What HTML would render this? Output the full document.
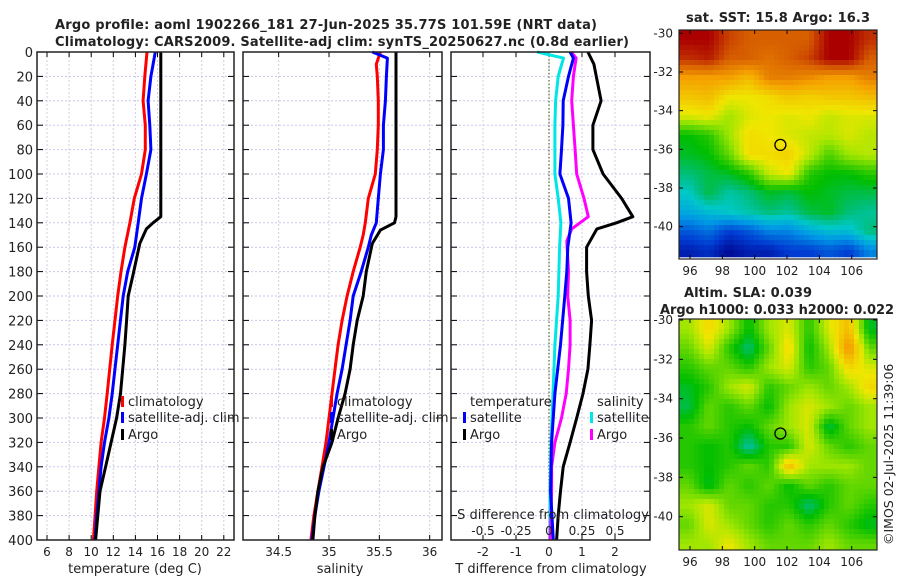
<!DOCTYPE html>
<html><head><meta charset="utf-8"><style>
html,body{margin:0;padding:0;background:#fff;width:900px;height:580px;overflow:hidden}
svg text{font-family:"DejaVu Sans","Liberation Sans",sans-serif;fill:#222}
</style></head><body>
<svg id="fig" xmlns="http://www.w3.org/2000/svg" width="900" height="580" viewBox="0 0 900 580">
<text x="55" y="29" font-size="13" font-weight="bold" textLength="542" fill="#000">Argo profile: aoml 1902266_181 27-Jun-2025 35.77S 101.59E (NRT data)</text>
<text x="55" y="46" font-size="13" font-weight="bold" textLength="574" fill="#000">Climatology: CARS2009. Satellite-adj clim: synTS_20250627.nc (0.8d earlier)</text>
<text x="686" y="22" font-size="13" font-weight="bold" textLength="184">sat. SST: 15.8 Argo: 16.3</text>
<text x="684" y="297" font-size="13" font-weight="bold" textLength="128">Altim. SLA: 0.039</text>
<text x="660" y="314" font-size="13" font-weight="bold" textLength="234">Argo h1000: 0.033 h2000: 0.022</text>
<text transform="translate(893,545) rotate(-90)" font-size="12.5">©IMOS 02-Jul-2025 11:39:06</text>
</svg>
<script>
// ---- data ----
const depthTicks=[0,20,40,60,80,100,120,140,160,180,200,220,240,260,280,300,320,340,360,380,400];
const tTicks=[6,8,10,12,14,16,18,20,22];
const sTicks=[34.5,35,35.5,36];
const dTTicks=[-2,-1,0,1,2];
const dSTicks=[-0.5,-0.25,0,0.25,0.5];
const dSTickLabels=["-0.5","-0.25","0","0.25","0.5"];
const lonTicks=[96,98,100,102,104,106];
const latTicks=[-30,-32,-34,-36,-38,-40];

const tClimDepth=[0,10,20,40,60,80,100,120,140,160,180,200,240,280,300,320,340,360,380,400];
const tClim=[15.05,14.95,14.85,14.7,14.9,14.9,14.55,13.9,13.5,13.05,12.7,12.4,11.9,11.45,11.2,10.9,10.7,10.5,10.35,10.2];
const tSat=[15.8,15.6,15.4,15.15,15.3,15.4,15.0,14.55,14.25,13.95,13.3,12.9,12.4,11.9,11.6,11.2,10.9,10.7,10.5,10.35];
const tArgoDepth=[0,20,40,60,80,100,120,135,140,145,157,182,200,220,240,260,280,300,320,340,360,380,400];
const tArgo=[16.3,16.3,16.3,16.3,16.3,16.3,16.3,16.3,15.6,15.0,14.4,13.8,13.35,13.2,13.05,12.85,12.65,12.3,11.8,11.3,10.8,10.6,10.4];

const sClimDepth=[0,10,20,40,60,80,100,120,140,150,160,180,200,220,240,260,280,300,320,340,360,380,400];
const sClim=[35.51,35.47,35.48,35.49,35.49,35.48,35.46,35.39,35.36,35.34,35.31,35.24,35.18,35.13,35.09,35.06,35.03,35.0,34.97,34.93,34.89,34.85,34.82];
const sSatDepth=[0,5,20,40,60,80,100,120,140,150,160,180,200,220,240,260,280,300,320,340,360,380,400];
const sSat=[35.43,35.58,35.57,35.56,35.54,35.54,35.51,35.49,35.47,35.42,35.39,35.32,35.24,35.21,35.17,35.13,35.08,35.04,35.0,34.95,34.9,34.86,34.83];
const sArgoDepth=[0,20,40,60,80,100,120,135,140,146,157,180,200,220,240,260,280,300,320,340,360,380,400];
const sArgo=[35.665,35.665,35.665,35.665,35.665,35.665,35.665,35.665,35.65,35.51,35.43,35.37,35.34,35.28,35.24,35.21,35.16,35.09,35.03,34.94,34.89,34.86,34.84];

const dTArgoDepth=[0,10,40,60,80,100,120,135,140,145,160,180,200,220,240,260,280,300,320,340,360,380,400];
const dTArgo=[1.18,1.36,1.58,1.33,1.33,1.64,2.2,2.54,2.05,1.45,1.14,1.14,1.19,1.29,1.24,1.18,1.03,0.84,0.64,0.43,0.35,0.28,0.23];
const dSatDepth=[0,5,20,40,60,80,100,120,140,160,180,200,240,280,320,360,400];
const dTSat=[0.64,0.74,0.59,0.43,0.42,0.38,0.33,0.59,0.67,0.57,0.54,0.48,0.35,0.18,0.08,0.05,0.13];
const dSSat=[-0.09,0.11,0.07,0.05,0.045,0.045,0.045,0.07,0.09,0.08,0.075,0.07,0.045,0.03,0.015,0.008,0.005];
const dSArgoDepth=[0,5,20,40,60,80,100,120,135,145,155,180,200,220,240,260,280,300,320,340,360,380,400];
const dSArgo=[0.168,0.205,0.185,0.172,0.185,0.198,0.21,0.265,0.298,0.172,0.135,0.148,0.142,0.16,0.16,0.148,0.13,0.095,0.045,0.02,0.02,0.015,0.008];

const sstGrid=[
[.95,.95,.88,.85,.85,.85,.85,.95,.95,.9],
[.9,.92,.85,.85,.82,.85,.88,.95,.95,.85],
[.75,.75,.75,.7,.8,.8,.78,.75,.75,.8],
[.68,.7,.62,.62,.64,.68,.66,.68,.68,.7],
[.6,.62,.55,.6,.62,.6,.62,.58,.6,.6],
[.42,.45,.55,.64,.62,.6,.58,.57,.6,.57],
[.4,.42,.5,.64,.64,.66,.58,.48,.55,.57],
[.35,.38,.4,.45,.58,.62,.45,.42,.42,.45],
[.3,.38,.32,.35,.4,.38,.42,.4,.38,.38],
[.25,.28,.3,.32,.35,.33,.38,.4,.35,.33],
[.15,.18,.12,.15,.2,.2,.25,.28,.28,.35],
[.08,.1,.05,.08,.08,.12,.12,.15,.12,.2]];
const slaGrid=[
[.55,.65,.55,.42,.55,.6,.45,.6,.7,.4],
[.5,.6,.45,.35,.5,.65,.42,.55,.78,.5],
[.45,.5,.5,.45,.55,.6,.45,.5,.65,.6],
[.4,.45,.55,.6,.45,.5,.55,.5,.55,.65],
[.38,.5,.45,.5,.42,.55,.6,.55,.5,.55],
[.45,.5,.45,.42,.5,.55,.6,.38,.5,.55],
[.45,.42,.45,.32,.45,.45,.6,.5,.45,.5],
[.45,.42,.45,.5,.45,.7,.55,.55,.55,.5],
[.5,.4,.5,.45,.5,.42,.5,.45,.5,.5],
[.55,.6,.5,.5,.45,.45,.35,.45,.5,.45],
[.5,.6,.55,.5,.45,.5,.45,.5,.45,.4],
[.55,.55,.62,.55,.5,.5,.5,.55,.5,.5]];
const argoLon=101.59, argoLat=-35.77;

// ---- helpers ----
const NS="http://www.w3.org/2000/svg";
const svg=document.getElementById('fig');
function mk(tag,attrs,parent){const e=document.createElementNS(NS,tag);for(const k in attrs)e.setAttribute(k,attrs[k]);(parent||svg).appendChild(e);return e;}
const yTop=52,yBot=540;
const yD=d=>yTop+d*(yBot-yTop)/400;
const P1={l:37,r:234}, P2={l:243,r:442}, P3={l:451,r:650};
const xT=t=>47+(t-6)*11.05;
const xS=s=>329+(s-35)*100.7;
const xDT=d=>549+d*33;
const xDS=s=>549+s*132;

function panel(P,name,xTickVals,xf,labels){
  const g=mk('g',{});
  
  
  depthTicks.forEach(d=>{mk('line',{x1:P.l,x2:P.r,y1:yD(d),y2:yD(d),stroke:'#c4c8ec','stroke-width':1,'stroke-dasharray':'2,2'},g);});
  xTickVals.forEach(v=>{const x=xf(v);mk('line',{x1:x,x2:x,y1:yTop,y2:yBot,stroke:'#d8c8e0','stroke-width':1,'stroke-dasharray':'2,2'},g);
    mk('line',{x1:x,x2:x,y1:yBot,y2:yBot-5,stroke:'#000'},g);mk('line',{x1:x,x2:x,y1:yTop,y2:yTop+5,stroke:'#000'},g);});
  depthTicks.forEach(d=>{mk('line',{x1:P.l,x2:P.l+6,y1:yD(d),y2:yD(d),stroke:'#000'},g);mk('line',{x1:P.r,x2:P.r-6,y1:yD(d),y2:yD(d),stroke:'#000'},g);});
  if(labels){xTickVals.forEach((v,i)=>{const t=mk('text',{x:xf(v),y:556,'font-size':12,'text-anchor':'middle'},g);t.textContent=labels[i];});}
  return g;
}
function frame(P,g){mk('rect',{x:P.l,y:yTop,width:P.r-P.l,height:yBot-yTop,fill:'none',stroke:'#222','stroke-width':1.5},g);}
function line(depths,vals,xf,color,name,g){
  const pts=vals.map((v,i)=>xf(v).toFixed(1)+','+yD(depths[i]).toFixed(1)).join(' ');
  const p=mk('polyline',{points:pts,fill:'none',stroke:color,'stroke-width':3,'stroke-linejoin':'round'},g);
  
  
}
function txt(x,y,s,name,size,anchor){const t=mk('text',{x:x,y:y,'font-size':size||12,'text-anchor':anchor||'start'});t.textContent=s;
  
  return t;}
function legItem(x,y,color,label,name){
  mk('rect',{x:x,y:y-10,width:3,height:11,fill:color});
  txt(x+7,y,label,name,13);
}

depthTicks.forEach(d=>{const t=mk('text',{x:33,y:yD(d)+5,'font-size':13,'text-anchor':'end'});t.textContent=d;
  
  });

// panel 1
const g1=panel(P1,'temperature-panel',tTicks,xT,tTicks.map(String));
line(tClimDepth,tClim,xT,'#ff0000','temp-climatology-line',g1);
line(tClimDepth,tSat,xT,'#0000ff','temp-satellite-line',g1);
line(tArgoDepth,tArgo,xT,'#000000','temp-argo-line',g1);
frame(P1,g1);
txt(135,573,'temperature (deg C)','temperature-axis-title',13,'middle');
legItem(121,406,'#ff0000','climatology','legend-climatology');
legItem(121,422,'#0000ff','satellite-adj. clim','legend-satellite-adj');
legItem(121,439,'#000000','Argo','legend-argo');

// panel 2
const g2=panel(P2,'salinity-panel',sTicks,xS,["34.5","35","35.5","36"]);
line(sClimDepth,sClim,xS,'#ff0000','sal-climatology-line',g2);
line(sSatDepth,sSat,xS,'#0000ff','sal-satellite-line',g2);
line(sArgoDepth,sArgo,xS,'#000000','sal-argo-line',g2);
frame(P2,g2);
txt(340,573,'salinity','salinity-axis-title',13,'middle');
legItem(330,406,'#ff0000','climatology','legend-climatology-2');
legItem(330,422,'#0000ff','satellite-adj. clim','legend-satellite-adj-2');
legItem(330,439,'#000000','Argo','legend-argo-2');

// panel 3
const g3=panel(P3,'difference-panel',dTTicks,xDT,dTTicks.map(String));
mk('line',{x1:xDT(0),x2:xDT(0),y1:yTop,y2:yBot,stroke:'#556b2f','stroke-width':1.2,'stroke-dasharray':'1.5,2'},g3);
line(dSatDepth,dSSat,xDS,'#00e5e5','s-diff-satellite-line',g3);
line(dSArgoDepth,dSArgo,xDS,'#ff00ff','s-diff-argo-line',g3);
line(dSatDepth,dTSat,xDT,'#0000ff','t-diff-satellite-line',g3);
line(dTArgoDepth,dTArgo,xDT,'#000000','t-diff-argo-line',g3);
frame(P3,g3);
txt(551,573,'T difference from climatology','t-diff-axis-title',13,'middle');
txt(553,519,'S difference from climatology','s-diff-axis-title',13,'middle');
dSTicks.forEach((v,i)=>{txt(xDS(v),535,dSTickLabels[i],'s-diff-tick-label',12,'middle');});
txt(470,406,'temperature','legend-temperature-header',13);
legItem(463,422,'#0000ff','satellite','legend-t-satellite');
legItem(463,439,'#000000','Argo','legend-t-argo');
txt(597,406,'salinity','legend-salinity-header',13);
legItem(590,422,'#00e5e5','satellite','legend-s-satellite');
legItem(590,439,'#ff00ff','Argo','legend-s-argo');

// ---- maps ----
const cmapStops=[[0,[0,0,120]],[0.05,[0,10,150]],[0.12,[0,60,210]],[0.22,[0,150,230]],[0.3,[0,200,200]],[0.35,[0,190,120]],[0.42,[0,190,0]],[0.55,[160,230,0]],[0.62,[240,230,0]],[0.75,[245,160,0]],[0.85,[215,95,0]],[0.95,[170,0,0]],[1,[150,0,0]]];
function cmap(v){v=Math.max(0,Math.min(1,v));
  for(let k=1;k<cmapStops.length;k++){if(v<=cmapStops[k][0]){const a=cmapStops[k-1],b=cmapStops[k];const f=(v-a[0])/(b[0]-a[0]);
    return 'rgb('+a[1].map((c,i)=>Math.round(c+(b[1][i]-c)*f)).join(',')+')';}}
  return 'rgb(150,0,0)';}
function map(grid,M,name){
  const g=mk('g',{});
  
  
  const rows=grid.length, cols=grid[0].length, cell=5;
  const nx=Math.ceil((M.r-M.l)/cell), ny=Math.ceil((M.imgB-M.t)/cell);
  for(let j=0;j<ny;j++)for(let i=0;i<nx;i++){
    const fx=(i+0.5)/nx*cols-0.5, fy=(j+0.5)/ny*rows-0.5;
    const i0=Math.max(0,Math.min(cols-1,Math.floor(fx))), j0=Math.max(0,Math.min(rows-1,Math.floor(fy)));
    const i1=Math.min(cols-1,i0+1), j1=Math.min(rows-1,j0+1);
    const ax=Math.max(0,Math.min(1,fx-i0)), ay=Math.max(0,Math.min(1,fy-j0));
    const v=(grid[j0][i0]*(1-ax)+grid[j0][i1]*ax)*(1-ay)+(grid[j1][i0]*(1-ax)+grid[j1][i1]*ax)*ay;
    const w=Math.min(cell,M.r-M.l-i*cell), h=Math.min(cell,M.imgB-M.t-j*cell);
    mk('rect',{x:M.l+i*cell,y:M.t+j*cell,width:w+0.3,height:h+0.3,fill:cmap(v)},g);
  }
  const lonX=lo=>690+(lo-96)*16.17;
  const latY=la=>M.y30+(-30-la)*M.dy;
  lonTicks.forEach(lo=>{const x=lonX(lo);mk('line',{x1:x,x2:x,y1:M.b,y2:M.b-4,stroke:'#000'},g);mk('line',{x1:x,x2:x,y1:M.t,y2:M.t+4,stroke:'#000'},g);
    const t=mk('text',{x:x,y:M.b+16,'font-size':12,'text-anchor':'middle'},g);t.textContent=lo;});
  latTicks.forEach(la=>{const y=latY(la);mk('line',{x1:M.l,x2:M.l+4,y1:y,y2:y,stroke:'#000'},g);mk('line',{x1:M.r,x2:M.r-4,y1:y,y2:y,stroke:'#000'},g);
    const t=mk('text',{x:673,y:y+4,'font-size':12,'text-anchor':'end'},g);t.textContent=la;});
  mk('rect',{x:M.l,y:M.t,width:M.r-M.l,height:M.b-M.t,fill:'none',stroke:'#222','stroke-width':1.2},g);
  const c=mk('circle',{cx:lonX(argoLon),cy:latY(argoLat),r:5.5,fill:'none',stroke:'#000','stroke-width':1.3},g);
  
  
}
map(sstGrid,{l:679,r:877,t:30,b:259,imgB:257,y30:33.3,dy:19.34},'sst-map');
map(slaGrid,{l:679,r:877,t:319,b:550,imgB:550,y30:320,dy:19.67},'sla-map');
</script>
</body></html>
